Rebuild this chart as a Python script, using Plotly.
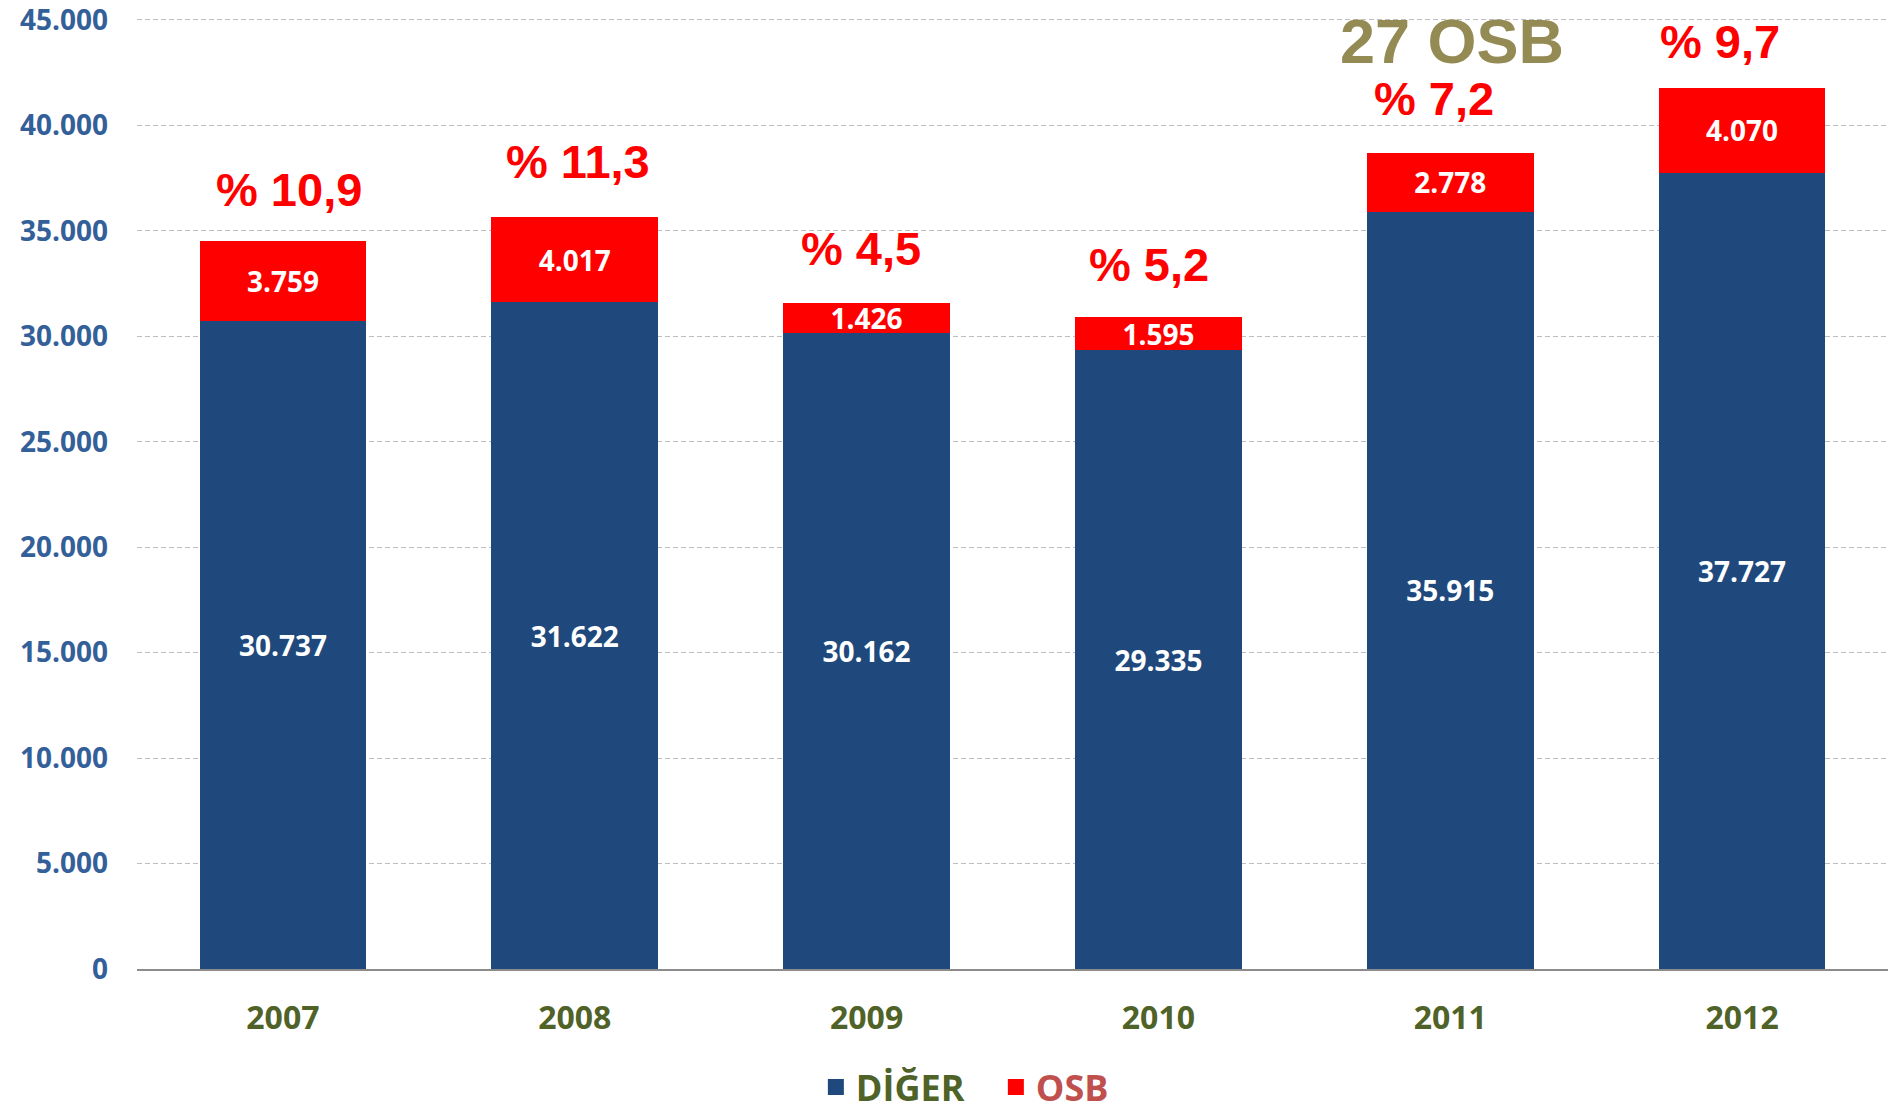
import plotly.graph_objects as go

years = ["2007", "2008", "2009", "2010", "2011", "2012"]
diger = [30737, 31622, 30162, 29335, 35915, 37727]
osb = [3759, 4017, 1426, 1595, 2778, 4070]
pct_labels = ["% 10,9", "% 11,3", "% 4,5", "% 5,2", "% 7,2", "% 9,7"]
note_text = "27 OSB"
note_year = "2011"
y_ticks = [0, 5000, 10000, 15000, 20000, 25000, 30000, 35000, 40000, 45000]

BLUE = "#1F497D"
RED = "#FF0000"
OLIVE = "#4F6228"
TICKBLUE = "#34609A"
LABEL_FONT = "Open Sans"

fig = go.Figure()
fig.add_trace(go.Bar(
    x=years, y=diger, name="DİĞER", showlegend=False,
    marker=dict(color=BLUE, line=dict(width=0)),
    texttemplate="%{y:,.0f}", textposition="inside", insidetextanchor="middle",
    textangle=0, constraintext="none",
    textfont=dict(family=LABEL_FONT, size=28, color="white", weight="bold"),
))
fig.add_trace(go.Bar(
    x=years, y=osb, name="OSB", showlegend=False,
    marker=dict(color=RED, line=dict(width=0)),
    texttemplate="%{y:,.0f}", textposition="inside", insidetextanchor="middle",
    textangle=0, constraintext="none",
    textfont=dict(family=LABEL_FONT, size=28, color="white", weight="bold"),
))
# legend entries (larger square swatches)
fig.add_trace(go.Scatter(x=[years[0]], y=[None], mode="markers",
                         name="<span style='color:%s'>DİĞER</span>" % OLIVE,
                         marker=dict(symbol="square", size=16, color=BLUE), hoverinfo="skip"))
fig.add_trace(go.Scatter(x=[years[0]], y=[None], mode="markers",
                         name="<span style='color:#C0504D'>OSB</span>",
                         marker=dict(symbol="square", size=16, color=RED), hoverinfo="skip"))

totals = [a + b for a, b in zip(diger, osb)]
xshifts = [6, 3, -6, -9, -16, -22]
yshifts = [52, 56, 54, 52, 54, 46]
for i, (tot, lab, xs, ys) in enumerate(zip(totals, pct_labels, xshifts, yshifts)):
    fig.add_annotation(x=i, y=tot, xref="x", yref="y", text="<b>%s</b>" % lab, showarrow=False,
                       yanchor="middle", yshift=ys, xshift=xs,
                       font=dict(family="Liberation Sans", size=47, color=RED))
ni = years.index(note_year)
fig.add_annotation(x=ni, y=totals[ni], xref="x", yref="y",
                   text="<b>%s</b>" % note_text,
                   showarrow=False, yanchor="middle", yshift=112, xshift=2,
                   font=dict(family="Liberation Sans", size=63, color="#948A54"))

fig.update_layout(
    barmode="stack",
    bargap=0.429,
    width=1888, height=1107,
    margin=dict(l=137, r=0, t=11, b=138),
    plot_bgcolor="white", paper_bgcolor="white",
    separators=",.",
    legend=dict(orientation="h", x=0.4905, xanchor="center",
                yref="container", y=0.018, yanchor="middle",
                traceorder="normal", entrywidth=135, entrywidthmode="pixels",
                font=dict(family=LABEL_FONT, size=36, weight="bold"),
                bgcolor="rgba(0,0,0,0)"),
    xaxis=dict(type="category", categoryorder="array", categoryarray=years, range=[-0.5, 5.5],
               showgrid=False, showline=True, linecolor="#8C8C8C", linewidth=2,
               tickfont=dict(family=LABEL_FONT, size=32, color=OLIVE, weight="bold"),
               ticks="", ticklabelstandoff=20),
    yaxis=dict(range=[0, 45283], tickvals=y_ticks, tickformat=",.0f", showgrid=True,
               gridcolor="#BFBFBF", gridwidth=1, griddash="5px,3px", zeroline=False, showline=False,
               tickfont=dict(family=LABEL_FONT, size=28, color=TICKBLUE, weight="bold"),
               ticks="", ticklabelstandoff=28, ticklabeloverflow="allow"),
)

fig.write_html("out.html", config={"displayModeBar": False},
               post_script="document.body.style.margin='0';")
